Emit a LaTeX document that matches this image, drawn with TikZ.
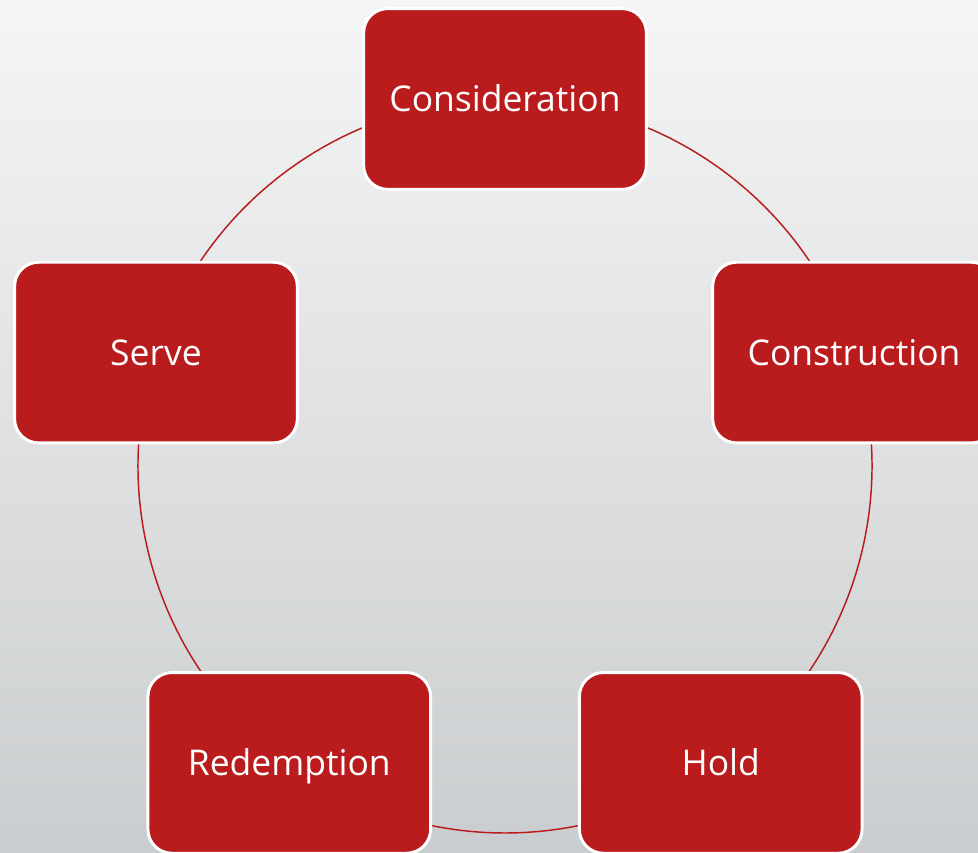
\documentclass[tikz,border=0pt]{standalone}
\usepackage{fontspec}
\setmainfont{Open Sans}
\usepackage{xcolor}
\usetikzlibrary{positioning,calc,backgrounds}

\definecolor{stagered}{RGB}{186,28,30}
\definecolor{bgtop}{RGB}{245,245,245}
\definecolor{bgmid}{RGB}{236,237,238}
\definecolor{bgbottom}{RGB}{202,205,207}

\begin{document}
\begin{tikzpicture}[
		x=0.75pt, y=0.75pt,
		stagebox/.style={draw=white, line width=2.2pt, fill=stagered, rounded corners=18pt,
			minimum width=212pt, minimum height=135.5pt, text=white,
			text height=19pt, text depth=0pt,
			font=\fontsize{26.6}{30}\selectfont},
		ring/.style={draw=stagered, line width=1.1pt},
	]
	\pgfmathsetmacro{\rad}{367}

	\useasboundingbox (0,0) rectangle (978,853);
	\clip (0,0) rectangle (978,853);

	\coordinate (mid) at (505,387);

	% the five stages round the ring
	\foreach \name/\ang/\txt in {cons/90/Consideration, constr/18/Construction, hold/-54/Hold, redem/-126/Redemption, serve/162/Serve}
		\node[stagebox] (\name) at ($(mid)+(\ang:\rad)$) {\txt};

	\begin{pgfonlayer}{background}
		\shade[top color=bgtop, middle color=bgmid, bottom color=bgbottom] (0,0) rectangle (978,853);
		\foreach \a/\b/\sa in {cons/constr/90, constr/hold/18, hold/redem/-54, redem/serve/-126, serve/cons/162}
			\draw[ring] (\a.center) arc[start angle=\sa, delta angle=-72, radius=\rad];
	\end{pgfonlayer}

\end{tikzpicture}
\end{document}
